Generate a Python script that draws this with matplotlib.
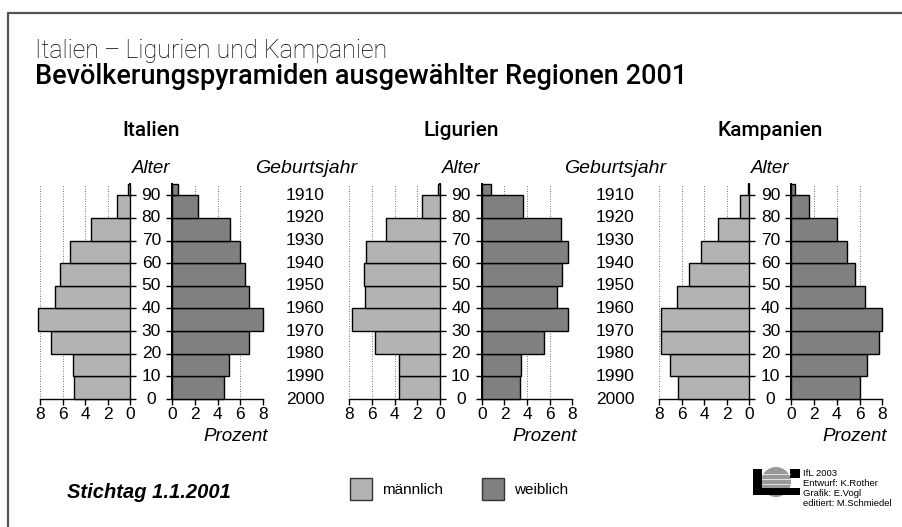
import numpy as np
import matplotlib.pyplot as plt
from matplotlib.patches import Rectangle, Circle
import matplotlib.transforms as mtransforms

plt.rcParams['font.family'] = ['Liberation Sans', 'DejaVu Sans']

# data: percent per 10-year age band (last band 90+ drawn 5 years high)
age_start = [0, 10, 20, 30, 40, 50, 60, 70, 80, 90]
band_height = [10, 10, 10, 10, 10, 10, 10, 10, 10, 5]
age_ticks = [0, 10, 20, 30, 40, 50, 60, 70, 80, 90]
birth_years = [2000, 1990, 1980, 1970, 1960, 1950, 1940, 1930, 1920, 1910]
pct_ticks = [0, 2, 4, 6, 8]

regions = ["Italien", "Ligurien", "Kampanien"]
male = {
    "Italien":   [5.0, 5.1, 7.0, 8.2, 6.7, 6.2, 5.3, 3.5, 1.2, 0.2],
    "Ligurien":  [3.6, 3.6, 5.7, 7.8, 6.6, 6.7, 6.5, 4.8, 1.6, 0.2],
    "Kampanien": [6.3, 7.0, 7.8, 7.8, 6.4, 5.4, 4.3, 2.8, 0.8, 0.1],
}
female = {
    "Italien":   [4.6, 5.0, 6.8, 8.0, 6.8, 6.4, 6.0, 5.1, 2.3, 0.5],
    "Ligurien":  [3.4, 3.5, 5.5, 7.6, 6.6, 7.1, 7.6, 7.0, 3.6, 0.8],
    "Kampanien": [6.0, 6.7, 7.7, 8.0, 6.5, 5.6, 4.9, 4.0, 1.5, 0.3],
}

C_MALE = "#b3b3b3"
C_FEMALE = "#808080"

W, H = 903, 527
fig = plt.figure(figsize=(W / 100, H / 100), dpi=100)

# background axes in pixel coordinates for frame, legend, logo
bg = fig.add_axes([0, 0, 1, 1], zorder=-1)
bg.set_xlim(0, W)
bg.set_ylim(H, 0)
bg.axis("off")

bg.plot([8, 8, W], [H, 13, 13], color="#555555", lw=1.6, solid_capstyle="butt")


def px_axes(x0, x1, ybot=399, ytop=184):
    return fig.add_axes([x0 / W, 1 - ybot / H, (x1 - x0) / W, (ybot - ytop) / H])


def ptext(x, y, s, **kw):
    fig.text(x / W, 1 - y / H, s, **kw)


ptext(35, 51, "Italien\u2009\u2013\u2009Ligurien und Kampanien", fontsize=18,
      family=["Roboto", "DejaVu Sans"], fontweight="light", va="center", ha="left")
ptext(35, 77, "Bevölkerungspyramiden ausgewählter Regionen 2001", fontsize=19.5,
      family=["Roboto", "DejaVu Sans"], fontweight="medium", va="center", ha="left")

offsets = [0, 309.5, 619.2]
for i, reg in enumerate(regions):
    off = offsets[i]
    axm = px_axes(40 + off, 130.3 + off)
    axf = px_axes(172.3 + off, 263 + off)

    axm.barh(age_start, male[reg], height=band_height, align="edge",
             color=C_MALE, edgecolor="black", lw=1.0, clip_on=False, zorder=3)
    axf.barh(age_start, female[reg], height=band_height, align="edge",
             color=C_FEMALE, edgecolor="black", lw=1.0, clip_on=False, zorder=3)

    for ax, side in ((axm, "right"), (axf, "left")):
        ax.set_xlim(0, 8)
        ax.set_ylim(0, 95)
        for t in pct_ticks[1:]:
            ax.axvline(t, color="#444444", lw=0.6, ls=(0, (1, 2)), zorder=1)
        for s in ax.spines:
            ax.spines[s].set_visible(s in (side, "bottom"))
        ax.spines[side].set_linewidth(1.4)
        ax.spines["bottom"].set_linewidth(1.0)
        ax.set_xticks(pct_ticks)
        ax.set_xticklabels([str(t) for t in pct_ticks])
        ax.tick_params(axis="x", direction="out", length=4, width=1.0,
                       labelsize=12.5, pad=1.5)
        ax.set_yticks(age_ticks)
        ax.tick_params(axis="y", direction="out", length=4, width=1.0,
                       left=(side == "left"), right=(side == "right"),
                       labelleft=False, labelright=False)
        ax.patch.set_alpha(0)
    axm.invert_xaxis()

    # age labels centered between both halves
    gap_center = (151.3 - 40) / 90.3
    trans = mtransforms.blended_transform_factory(axm.transAxes, axm.transData)
    for a in age_ticks:
        axm.text(gap_center, a, str(a), transform=trans, ha="center",
                 va="center", fontsize=12.5)
    axm.text(gap_center, 1.07, "Alter", transform=axm.transAxes, ha="center",
             va="center", fontsize=13.5, style="italic")

    if i > 0:
        for a, yr in zip(age_ticks, birth_years):
            axm.text(-24.7 / 90.3, a, str(yr), transform=trans, ha="right",
                     va="center", fontsize=12.5)
        axm.text(7.3 / 90.3, 1.07, "Geburtsjahr", transform=axm.transAxes,
                 ha="right", va="center", fontsize=14, style="italic")

    axf.text(1.05, -0.175, "Prozent", transform=axf.transAxes, ha="right",
             va="center", fontsize=13.5, style="italic")
    ptext(151.3 + off, 130, reg, fontsize=15, family=["Roboto", "DejaVu Sans"],
          fontweight="medium", ha="center", va="center")

# footer
ptext(67, 492, "Stichtag 1.1.2001", fontsize=14.5, fontweight="bold",
      style="italic", ha="left", va="center")
bg.add_patch(Rectangle((350, 478), 22, 22, facecolor=C_MALE, edgecolor="#333333", lw=1.0))
ptext(382, 490, "männlich", fontsize=11, ha="left", va="center")
bg.add_patch(Rectangle((482, 478), 22, 22, facecolor=C_FEMALE, edgecolor="#333333", lw=1.0))
ptext(514, 490, "weiblich", fontsize=11, ha="left", va="center")

# logo
bg.add_patch(Circle((776, 482), 15, facecolor="#999999", edgecolor="none"))
bg.add_patch(Rectangle((753, 469), 9, 26, facecolor="black"))
bg.add_patch(Rectangle((790, 469), 10, 9, facecolor="black"))
bg.add_patch(Rectangle((762, 488), 38, 7, facecolor="black"))
for yy in (474, 479, 484):
    bg.plot([762, 790], [yy, yy], color="white", lw=0.5)
credits = ["IfL 2003", "Entwurf: K.Rother", "Grafik: E.Vogl", "editiert: M.Schmiedel"]
for k, line in enumerate(credits):
    ptext(803, 474 + k * 9.7, line, fontsize=6.8, ha="left", va="center")

fig.savefig("out.png", dpi=100)
